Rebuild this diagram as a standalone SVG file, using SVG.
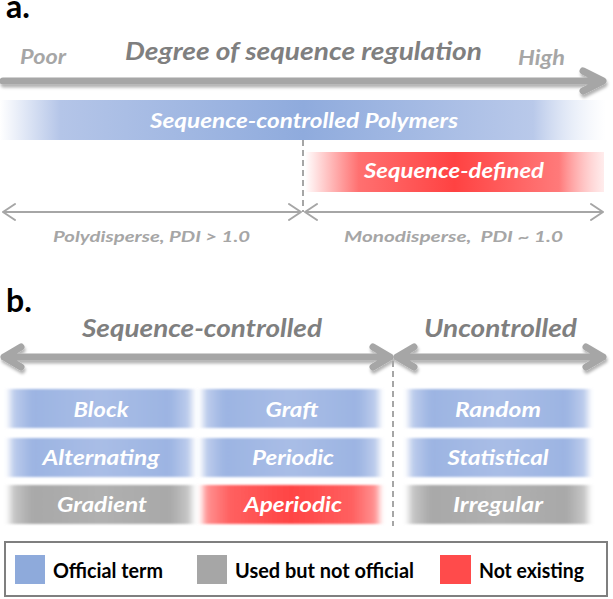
<svg xmlns="http://www.w3.org/2000/svg" width="613" height="599" viewBox="0 0 613 599">
<defs>
<style>
text{font-family:Lato,"Open Sans","Liberation Sans",sans-serif;font-weight:700}
.it{font-style:italic}
.hdr{fill:#000;font-size:32px;font-style:normal}
.big{fill:#7f7f7f;font-size:24px}
.end{fill:#a6a6a6;font-size:20px}
.wt{fill:#fff;font-size:20px}
.sm{fill:#a6a6a6;font-size:16px}
.lg{fill:#000;font-size:21px;font-style:normal}
.thick{stroke:#a6a6a6;stroke-width:7;fill:none;stroke-linecap:round;stroke-linejoin:round}
.thin{stroke:#a6a6a6;stroke-width:2;fill:none;stroke-linecap:round;stroke-linejoin:round}
.dash{stroke:#a6a6a6;stroke-width:2;fill:none;stroke-dasharray:6 4}
</style>
<filter id="shadow" x="-5%" y="-50%" width="110%" height="200%">
<feDropShadow dx="1" dy="3" stdDeviation="1.5" flood-color="#000" flood-opacity="0.3"/>
</filter>
<filter id="soft" x="-10%" y="-30%" width="120%" height="160%">
<feGaussianBlur stdDeviation="3 1.2"/>
</filter>
<linearGradient id="gBand" x1="0" y1="0" x2="1" y2="0">
<stop offset="0" stop-color="#b4c5e8" stop-opacity="0"/>
<stop offset="0.1" stop-color="#b4c5e8"/>
<stop offset="0.5" stop-color="#8fabdd"/>
<stop offset="0.88" stop-color="#b9c9ea"/>
<stop offset="1" stop-color="#dfe7f6" stop-opacity="0"/>
</linearGradient>
<linearGradient id="gRedBand" x1="0" y1="0" x2="1" y2="0">
<stop offset="0" stop-color="#ff6b6b" stop-opacity="0"/>
<stop offset="0.18" stop-color="#ff7070"/>
<stop offset="0.5" stop-color="#ff4242"/>
<stop offset="0.85" stop-color="#ff7a7a"/>
<stop offset="1" stop-color="#ffc0c0" stop-opacity="0.3"/>
</linearGradient>
<linearGradient id="gBlue" x1="0" y1="0" x2="1" y2="0">
<stop offset="0" stop-color="#c3d1ee"/>
<stop offset="0.12" stop-color="#9cb4e2"/>
<stop offset="0.5" stop-color="#a9bde6"/>
<stop offset="0.88" stop-color="#9cb4e2"/>
<stop offset="1" stop-color="#c3d1ee"/>
</linearGradient>
<linearGradient id="gGray" x1="0" y1="0" x2="1" y2="0">
<stop offset="0" stop-color="#cccccc"/>
<stop offset="0.12" stop-color="#a8a8a8"/>
<stop offset="0.5" stop-color="#b0b0b0"/>
<stop offset="0.88" stop-color="#a8a8a8"/>
<stop offset="1" stop-color="#cccccc"/>
</linearGradient>
<linearGradient id="gRed" x1="0" y1="0" x2="1" y2="0">
<stop offset="0" stop-color="#ff9a9a"/>
<stop offset="0.15" stop-color="#ff6060"/>
<stop offset="0.5" stop-color="#ff4444"/>
<stop offset="0.85" stop-color="#ff6060"/>
<stop offset="1" stop-color="#ff9a9a"/>
</linearGradient>
</defs>
<rect width="613" height="599" fill="#fff"/>

<g id="panel-a">
<text class="hdr" x="6" y="18">a.</text>
<text class="it end" x="20" y="64" textLength="46" lengthAdjust="spacingAndGlyphs">Poor</text>
<text class="it big" x="125" y="60" textLength="357" lengthAdjust="spacingAndGlyphs">Degree of sequence regulation</text>
<text class="it end" x="518" y="65" textLength="47" lengthAdjust="spacingAndGlyphs">High</text>
</g>

<g id="band-scp">
<rect x="0" y="100" width="606" height="40" fill="url(#gBand)"/>
<text class="it wt" x="304" y="128" text-anchor="middle" textLength="308" lengthAdjust="spacingAndGlyphs">Sequence-controlled Polymers</text>
</g>
<g id="band-sd">
<rect x="305" y="152" width="299" height="40" fill="url(#gRedBand)"/>
<text class="it wt" x="454" y="178" text-anchor="middle" textLength="180" lengthAdjust="spacingAndGlyphs">Sequence-defined</text>
</g>

<g id="connectors">
<path class="thick" filter="url(#shadow)" d="M3,81 H602 M583,71 L603,81 L583,91"/>
<line class="dash" x1="303" y1="140" x2="303" y2="212"/>
<path class="thin" d="M3,212 H301 M15,204 L3,212 L15,220 M289,204 L301,212 L289,220"/>
<path class="thin" d="M305,212 H603 M317,204 L305,212 L317,220 M591,204 L603,212 L591,220"/>
<path class="thick" filter="url(#shadow)" d="M4,357 H390 M21,347 L4,357 L21,367 M373,347 L390,357 L373,367"/>
<path class="thick" filter="url(#shadow)" d="M397,357 H603 M414,347 L397,357 L414,367 M586,347 L603,357 L586,367"/>
<line class="dash" x1="393" y1="361" x2="393" y2="526"/>
</g>

<g id="labels-a">
<text class="it sm" x="53" y="242" textLength="197" lengthAdjust="spacingAndGlyphs">Polydisperse, PDI &gt; 1.0</text>
<text class="it sm" x="344" y="242" textLength="219" lengthAdjust="spacingAndGlyphs" xml:space="preserve">Monodisperse,  PDI ~ 1.0</text>
</g>

<g id="panel-b">
<text class="hdr" x="6" y="312">b.</text>
<text class="it big" x="82" y="337" textLength="240" lengthAdjust="spacingAndGlyphs">Sequence-controlled</text>
<text class="it big" x="424" y="337" textLength="153" lengthAdjust="spacingAndGlyphs">Uncontrolled</text>
</g>

<g id="block"><rect x="10" y="389" width="182" height="39" fill="url(#gBlue)" filter="url(#soft)"/><text class="it wt" x="101" y="417" text-anchor="middle" textLength="55" lengthAdjust="spacingAndGlyphs">Block</text></g>
<g id="graft"><rect x="203" y="389" width="176" height="39" fill="url(#gBlue)" filter="url(#soft)"/><text class="it wt" x="292" y="417" text-anchor="middle" textLength="53" lengthAdjust="spacingAndGlyphs">Graft</text></g>
<g id="random"><rect x="409" y="389" width="179" height="39" fill="url(#gBlue)" filter="url(#soft)"/><text class="it wt" x="498" y="417" text-anchor="middle" textLength="86" lengthAdjust="spacingAndGlyphs">Random</text></g>

<g id="alternating"><rect x="10" y="438" width="182" height="39" fill="url(#gBlue)" filter="url(#soft)"/><text class="it wt" x="101" y="465" text-anchor="middle" textLength="117" lengthAdjust="spacingAndGlyphs">Alternating</text></g>
<g id="periodic"><rect x="203" y="438" width="176" height="39" fill="url(#gBlue)" filter="url(#soft)"/><text class="it wt" x="293" y="465" text-anchor="middle" textLength="82" lengthAdjust="spacingAndGlyphs">Periodic</text></g>
<g id="statistical"><rect x="409" y="438" width="179" height="39" fill="url(#gBlue)" filter="url(#soft)"/><text class="it wt" x="498" y="465" text-anchor="middle" textLength="101" lengthAdjust="spacingAndGlyphs">Statistical</text></g>

<g id="gradient"><rect x="10" y="485" width="182" height="39" fill="url(#gGray)" filter="url(#soft)"/><text class="it wt" x="102" y="512" text-anchor="middle" textLength="90" lengthAdjust="spacingAndGlyphs">Gradient</text></g>
<g id="aperiodic"><rect x="203" y="485" width="176" height="39" fill="url(#gRed)" filter="url(#soft)"/><text class="it wt" x="293" y="512" text-anchor="middle" textLength="98" lengthAdjust="spacingAndGlyphs">Aperiodic</text></g>
<g id="irregular"><rect x="409" y="485" width="179" height="39" fill="url(#gGray)" filter="url(#soft)"/><text class="it wt" x="498" y="512" text-anchor="middle" textLength="90" lengthAdjust="spacingAndGlyphs">Irregular</text></g>

<g id="legend">
<rect x="5" y="542" width="602" height="54" fill="#fff" stroke="#7f7f7f" stroke-width="2"/>
<rect x="15" y="555" width="30" height="29" fill="#8eaadb"/>
<text class="lg" x="53" y="578" textLength="110" lengthAdjust="spacingAndGlyphs">Official term</text>
<rect x="197" y="555" width="30" height="29" fill="#a6a6a6"/>
<text class="lg" x="235" y="578" textLength="179" lengthAdjust="spacingAndGlyphs">Used but not official</text>
<rect x="440" y="555" width="31" height="29" fill="#ff4b4b"/>
<text class="lg" x="479" y="578" textLength="105" lengthAdjust="spacingAndGlyphs">Not existing</text>
</g>
</svg>
